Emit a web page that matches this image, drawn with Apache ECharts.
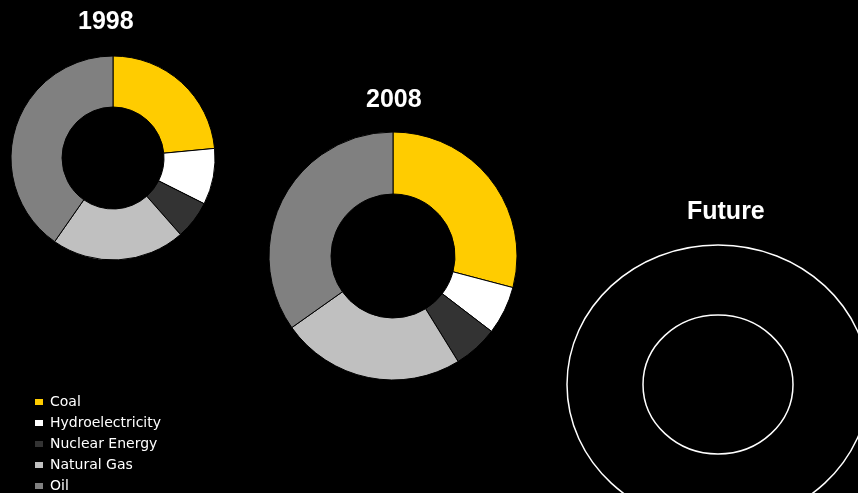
<!DOCTYPE html>
<html>
<head>
<meta charset="utf-8">
<title>Energy mix</title>
<script src="https://cdn.jsdelivr.net/npm/echarts@6/dist/echarts.min.js"></script>
<style>
  html, body { margin: 0; padding: 0; background: #000; }
  #chart { width: 858px; height: 493px; }
</style>
</head>
<body>
<div id="chart"></div>
<script>
// Primary energy sources, share of consumption (%)
const categories = ['Coal', 'Hydroelectricity', 'Nuclear Energy', 'Natural Gas', 'Oil'];
const share1998 = [23.5, 8.9, 6.1, 21.2, 40.3];
const share2008 = [29.1, 6.3, 5.8, 24.0, 34.8];
const years = ['1998', '2008', 'Future'];
const palette = ['#FFCC00', '#FFFFFF', '#333333', '#C0C0C0', '#808080'];

const toData = (values) => categories.map((name, i) => ({ name, value: values[i] }));

const titleFont = { color: '#fff', fontSize: 25, fontWeight: 'bold', fontFamily: 'Liberation Sans, Arial, sans-serif' };

function donut(name, values, center, radius) {
  return {
    type: 'pie',
    name,
    center,
    radius,
    startAngle: 90,
    clockwise: true,
    avoidLabelOverlap: false,
    label: { show: false },
    labelLine: { show: false },
    emphasis: { disabled: true },
    itemStyle: { borderColor: '#000', borderWidth: 1 },
    data: toData(values)
  };
}

const chart = echarts.init(document.getElementById('chart'), null, { renderer: 'canvas' });
chart.setOption({
  backgroundColor: '#000',
  animation: false,
  color: palette,
  title: [
    { text: years[0], left: 78, top: 10, padding: 0, textStyle: titleFont },
    { text: years[1], left: 366, top: 88, padding: 0, textStyle: titleFont },
    { text: years[2], left: 687, top: 200, padding: 0, textStyle: titleFont }
  ],
  legend: {
    orient: 'vertical',
    left: 35,
    top: 395,
    padding: 0,
    itemGap: 7,
    itemWidth: 8,
    itemHeight: 6,
    icon: 'rect',
    itemStyle: { borderWidth: 0 },
    textStyle: { color: '#fff', fontSize: 14, lineHeight: 14, fontFamily: 'DejaVu Sans, sans-serif', padding: [0, 0, 0, 2] },
    data: categories
  },
  series: [
    donut(years[0], share1998, [113, 158], [51, 102]),
    donut(years[1], share2008, [393, 256], [62, 124])
  ],
  graphic: [
    // empty placeholder ring for the future mix
    { type: 'ellipse', shape: { cx: 718, cy: 384.5, rx: 151, ry: 139.5 }, style: { fill: 'none', stroke: '#fff', lineWidth: 1.5 }, silent: true },
    { type: 'ellipse', shape: { cx: 718, cy: 384.5, rx: 75, ry: 69.5 }, style: { fill: 'none', stroke: '#fff', lineWidth: 1.5 }, silent: true }
  ]
});
</script>
</body>
</html>
